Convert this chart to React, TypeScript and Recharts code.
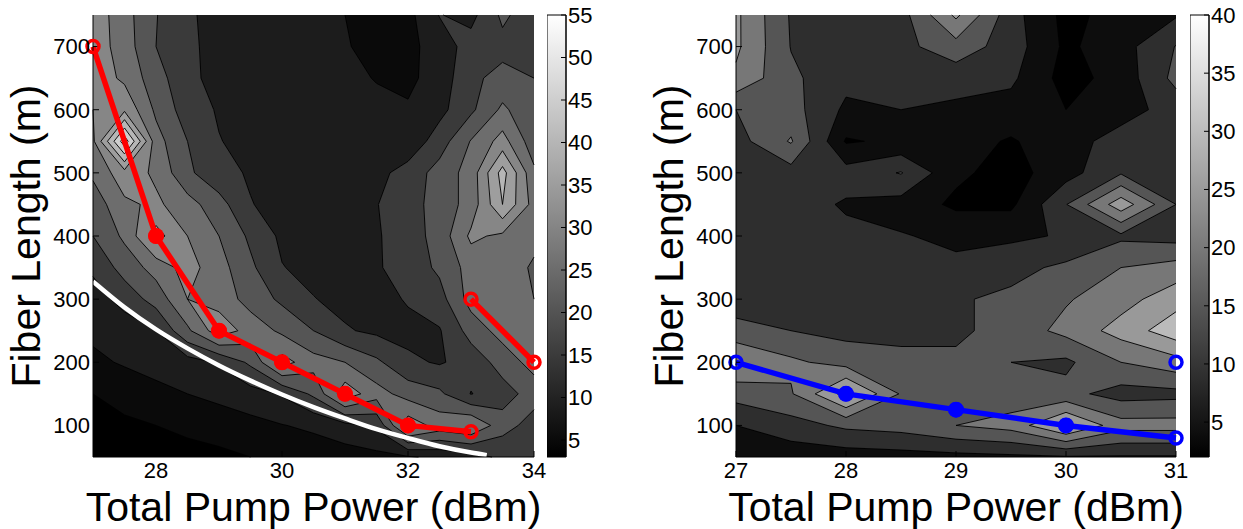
import React from 'react';
import { ComposedChart, XAxis, YAxis, Line, Scatter, ReferenceArea } from 'recharts';

const FONT = '"Liberation Sans", Arial, Helvetica, sans-serif';

// ---------- shared ----------
const lengthGrid = [750, 700, 650, 600, 550, 500, 450, 400, 350, 300, 250, 200, 150, 100, 50];
const lengthTicks = [100, 200, 300, 400, 500, 600, 700];
const lengthRange = [50, 750];

// ---------- left panel ----------
const leftPowerGrid = [27, 27.5, 28, 28.5, 29, 29.5, 30, 30.5, 31, 31.5, 32, 32.5, 33, 33.5, 34];
const leftZ = [
  [33, 27, 20.2, 16.3, 12, 11, 11, 11, 10, 8, 8.5, 15.2, 13.5, 21, 17],
  [33, 27.5, 20, 16.5, 12.5, 11.5, 11, 11, 10.5, 8, 8.5, 12.5, 17, 18.5, 18],
  [33, 29, 22, 16.5, 13, 12, 11.5, 11, 11, 9.8, 9, 12, 19, 21.5, 20],
  [30, 34, 24, 17.5, 14.5, 13, 12, 11.5, 11, 11, 10.5, 13.5, 19, 26, 21],
  [29, 53, 27, 20, 15.2, 13.5, 12.5, 12, 11.5, 11.5, 11.5, 17.5, 25.3, 32, 22],
  [26, 33, 29, 21, 16.5, 14.5, 13, 12.5, 12, 13.5, 17, 22, 27, 42, 26],
  [22, 29, 31, 27, 22, 15.2, 13.5, 13, 13, 14.8, 18, 22, 27, 40, 28],
  [20, 26, 37, 30, 25, 19, 14, 13.5, 12.5, 14.5, 17.5, 22, 31, 29, 27],
  [16, 22, 27, 32, 27, 21, 15.2, 13.5, 12.5, 14.5, 17, 21, 27, 29, 24],
  [12.5, 17, 22, 30, 28, 23, 19, 15.2, 13.5, 13, 15.5, 18, 27, 28, 25],
  [11, 12, 15, 24, 33, 28, 24, 20, 15.5, 14, 13.5, 14.6, 22, 27, 28],
  [9, 10.5, 12, 13, 15.5, 21, 32, 27, 25, 21, 16, 14.5, 17, 22, 27],
  [5, 7, 8.5, 10, 11.5, 13, 15.5, 21, 33, 27, 23, 21, 14.8, 18, 22],
  [3, 4, 5, 6, 7, 8.5, 9.8, 11, 13.5, 16, 33, 28, 30, 22, 18],
  [2, 2.5, 3, 3.5, 4, 5, 6, 7, 7.5, 8.5, 9.5, 11, 13, 16, 17],
];
const leftLevels = [5, 10, 15, 20, 25, 30, 35, 40, 45, 50];
const leftBandColors = ['#000000', '#0a0a0a', '#1c1c1c', '#3a3a3a', '#555555', '#6d6d6d', '#868686', '#9e9e9e', '#b6b6b6', '#cecece', '#e6e6e6'];
const leftColorMin = 3;
const leftColorMax = 55;
const leftPowerTicks = [28, 30, 32, 34];
const leftBarTicks = [5, 10, 15, 20, 25, 30, 35, 40, 45, 50, 55];

const leftOptPower = [27, 28, 29, 30, 31, 32, 33];
const leftOptLength = [700, 400, 250, 200, 150, 100, 90];
const leftOpt2Power = [33, 34];
const leftOpt2Length = [300, 200];
const leftFilledPower = [28, 29, 30, 31, 32];
const leftFilledLength = [400, 250, 200, 150, 100];
const leftBoundPower = [27, 27.5, 28, 28.5, 29, 29.5, 30, 30.5, 31, 31.5, 32, 32.5, 33, 33.25];
const leftBoundLength = [328, 287, 252, 222, 195, 171, 149, 129, 111, 94, 80, 67, 57, 53];

// ---------- right panel ----------
const rightPowerGrid = [27, 27.5, 28, 28.5, 29, 29.5, 30, 30.5, 31];
const rightZ = [
  [26, 14.5, 12.5, 13, 26, 12, 3.5, 7, 9.5],
  [26, 14.8, 13, 13.5, 18, 12.5, 4, 8, 15.2],
  [24, 16, 11.5, 11, 12, 11, 3, 7, 16.5],
  [15, 17, 9, 10, 9, 8, 5, 8, 12],
  [13, 20.5, 4.5, 6, 7, 4.5, 8, 12, 12],
  [12.5, 13, 12, 15.3, 6, 3, 8, 14.5, 12],
  [12, 12, 9.5, 8, 4, 4, 14.8, 28, 15],
  [12, 12, 11, 10.3, 9, 9, 10.5, 14, 13],
  [12, 12.5, 12, 11.5, 11, 13.5, 16, 20, 22],
  [12, 12.5, 12.5, 13, 14.5, 16, 19.5, 23, 28],
  [17, 15, 13.5, 13, 14, 17, 21.5, 27, 33],
  [25, 21, 18, 17, 16, 15, 14, 20, 23],
  [17, 19.5, 32, 19.5, 18, 17, 16.5, 13, 13.5],
  [10, 13, 16, 17, 20, 22, 31, 22, 22],
  [6, 7, 7.5, 8, 8.5, 9, 9.5, 9.5, 9.5],
];
const rightLevels = [5, 10, 15, 20, 25, 30, 35];
const rightBandColors = ['#000000', '#0d0d0d', '#2e2e2e', '#555555', '#777777', '#999999', '#bbbbbb', '#dddddd'];
const rightColorMin = 2;
const rightColorMax = 40;
const rightPowerTicks = [27, 28, 29, 30, 31];
const rightBarTicks = [5, 10, 15, 20, 25, 30, 35, 40];

const rightOptPower = [27, 28, 29, 30, 31];
const rightOptLength = [200, 150, 125, 100, 80];
const rightFilledPower = [28, 29, 30];
const rightFilledLength = [150, 125, 100];
const rightExtraPower = [31];
const rightExtraLength = [200];

// ---------- helpers ----------
const toXY = (xs: number[], ys: number[]) => xs.map((x, i) => ({ x, y: ys[i] }));

type Pt = [number, number];

function cellCorners(p: any): Pt[] {
  const { x, y, width: w, height: h } = p;
  return [
    [x, y + h],
    [x + w, y + h],
    [x + w, y],
    [x, y],
  ];
}

// band polygons of one cell, painted lowest band first
function fillCell(p: any, vals: number[], levels: number[], colors: string[]) {
  const pts = cellCorners(p);
  const out: any[] = [<rect key="base" x={p.x} y={p.y} width={p.width} height={p.height} fill={colors[0]} />];
  levels.forEach((L, k) => {
    const poly: Pt[] = [];
    for (let i = 0; i < 4; i++) {
      const j = (i + 1) % 4;
      const a = vals[i] >= L;
      const b = vals[j] >= L;
      if (a) poly.push(pts[i]);
      if (a !== b) {
        const t = (L - vals[i]) / (vals[j] - vals[i]);
        poly.push([pts[i][0] + t * (pts[j][0] - pts[i][0]), pts[i][1] + t * (pts[j][1] - pts[i][1])]);
      }
    }
    if (poly.length >= 3) {
      out.push(<polygon key={k} points={poly.map((q) => `${q[0]},${q[1]}`).join(' ')} fill={colors[k + 1]} />);
    }
  });
  return <g shapeRendering="crispEdges">{out}</g>;
}

function lineCell(p: any, vals: number[], levels: number[]) {
  const pts = cellCorners(p);
  let d = '';
  levels.forEach((L) => {
    const cr: { q: Pt; exit: boolean }[] = [];
    for (let i = 0; i < 4; i++) {
      const j = (i + 1) % 4;
      const a = vals[i] >= L;
      const b = vals[j] >= L;
      if (a !== b) {
        const t = (L - vals[i]) / (vals[j] - vals[i]);
        cr.push({ q: [pts[i][0] + t * (pts[j][0] - pts[i][0]), pts[i][1] + t * (pts[j][1] - pts[i][1])], exit: a });
      }
    }
    const n = cr.length;
    for (let k = 0; k < n; k++) {
      if (cr[k].exit) {
        const e = cr[(k + 1) % n];
        d += `M${cr[k].q[0]},${cr[k].q[1]}L${e.q[0]},${e.q[1]}`;
      }
    }
  });
  if (!d) return <g />;
  return <path d={d} stroke="#000" strokeWidth={0.9} fill="none" />;
}

function contourAreas(xs: number[], ys: number[], z: number[][], levels: number[], colors: string[], prefix: string) {
  const fills: any[] = [];
  const lines: any[] = [];
  for (let j = 0; j < ys.length - 1; j++) {
    for (let i = 0; i < xs.length - 1; i++) {
      const vals = [z[j + 1][i], z[j + 1][i + 1], z[j][i + 1], z[j][i]];
      fills.push(
        <ReferenceArea
          key={`${prefix}f${j}_${i}`}
          x1={xs[i]}
          x2={xs[i + 1]}
          y1={ys[j + 1]}
          y2={ys[j]}
          ifOverflow="visible"
          stroke="none"
          fill="none"
          shape={(p: any) => fillCell(p, vals, levels, colors)}
        />
      );
      lines.push(
        <ReferenceArea
          key={`${prefix}l${j}_${i}`}
          x1={xs[i]}
          x2={xs[i + 1]}
          y1={ys[j + 1]}
          y2={ys[j]}
          ifOverflow="visible"
          stroke="none"
          fill="none"
          shape={(p: any) => lineCell(p, vals, levels)}
        />
      );
    }
  }
  return [...fills, ...lines];
}

const tickText = { fontSize: 22, fill: '#000', fontFamily: FONT };

const ring = (color: string) => (p: any) => (
  <circle cx={p.cx} cy={p.cy} r={6} fill="none" stroke={color} strokeWidth={3.5} />
);
const disc = (color: string) => (p: any) => <circle cx={p.cx} cy={p.cy} r={8} fill={color} />;

function Panel(props: {
  xs: number[];
  z: number[][];
  levels: number[];
  colors: string[];
  xTicks: number[];
  prefix: string;
  rightMargin: number;
  children?: any;
}) {
  const { xs, z, levels, colors, xTicks, prefix, rightMargin, children } = props;
  const domain: [number, number] = [xs[0], xs[xs.length - 1]];
  const frame = toXY([xs[0], xs[xs.length - 1]], lengthRange);
  return (
    <ComposedChart width={560} height={529} margin={{ top: 15, right: rightMargin, bottom: 0, left: 0 }}>
      <XAxis
        dataKey="x"
        type="number"
        domain={domain}
        ticks={xTicks}
        interval={0}
        height={72}
        stroke="#000"
        tickSize={-6}
        tickMargin={11}
        tick={tickText}
        label={{
          value: 'Total Pump Power (dBm)',
          position: 'insideBottom',
          offset: 8.5,
          fontSize: 41,
          fontFamily: FONT,
          fill: '#000',
        }}
      />
      <XAxis xAxisId="top" dataKey="x" orientation="top" type="number" domain={domain} ticks={xTicks} interval={0} height={0} stroke="#000" tickSize={-6} tick={false} />
      <YAxis
        dataKey="y"
        type="number"
        domain={[50, 750]}
        ticks={lengthTicks}
        interval={0}
        width={93}
        stroke="#000"
        tickSize={-6}
        tickMargin={9}
        tick={tickText}
        label={{
          value: 'Fiber Length (m)',
          angle: -90,
          position: 'insideLeft',
          offset: 25,
          fontSize: 41,
          fontFamily: FONT,
          fill: '#000',
          style: { textAnchor: 'middle' },
        }}
      />
      <YAxis yAxisId="right" dataKey="y" orientation="right" type="number" domain={[50, 750]} ticks={lengthTicks} interval={0} width={0} stroke="#000" tickSize={-6} tick={false} />
      {contourAreas(xs, lengthGrid, z, levels, colors, prefix)}
      <Line xAxisId="top" yAxisId="right" data={frame} dataKey="y" stroke="none" dot={false} activeDot={false} isAnimationActive={false} />
      {children}
    </ComposedChart>
  );
}

function ColorBar(props: { cmin: number; cmax: number; ticks: number[]; width: number; id: string }) {
  const { cmin, cmax, ticks, width, id } = props;
  const span = toXY([0, 1], [cmin, cmax]);
  return (
    <ComposedChart width={width} height={529} margin={{ top: 15, right: 0, bottom: 72, left: 0 }}>
      <defs>
        <linearGradient id={id} x1="0" y1="0" x2="0" y2="1">
          <stop offset="0%" stopColor="#ffffff" />
          <stop offset="100%" stopColor="#000000" />
        </linearGradient>
      </defs>
      <XAxis type="number" dataKey="x" domain={[0, 1]} hide />
      <YAxis yAxisId="l" dataKey="y" orientation="left" type="number" domain={[cmin, cmax]} ticks={ticks} interval={0} width={0} stroke="#000" tickSize={-5} tick={false} />
      <YAxis
        dataKey="y"
        orientation="right"
        type="number"
        domain={[cmin, cmax]}
        ticks={ticks}
        interval={0}
        width={width - 19}
        stroke="#000"
        tickSize={-5}
        tickMargin={7}
        tick={tickText}
      />
      <ReferenceArea x1={0} x2={1} y1={cmin} y2={cmax} fill={`url(#${id})`} fillOpacity={1} stroke="#000" strokeWidth={1} ifOverflow="visible" />
      <Line data={span} dataKey="y" stroke="none" dot={false} activeDot={false} isAnimationActive={false} />
      <Line yAxisId="l" data={span} dataKey="y" stroke="none" dot={false} activeDot={false} isAnimationActive={false} />
    </ComposedChart>
  );
}

export default function App() {
  return (
    <div style={{ position: 'absolute', left: 0, top: 0, width: 1243, height: 529, overflow: 'hidden', background: '#fff' }}>
      <div style={{ position: 'absolute', left: 0, top: 0 }}>
        <Panel xs={leftPowerGrid} z={leftZ} levels={leftLevels} colors={leftBandColors} xTicks={leftPowerTicks} prefix="L" rightMargin={26}>
          <Line data={toXY(leftBoundPower, leftBoundLength)} dataKey="y" type="monotone" stroke="#ffffff" strokeWidth={4.5} dot={false} activeDot={false} isAnimationActive={false} />
          <Line data={toXY(leftOptPower, leftOptLength)} dataKey="y" stroke="#ff0000" strokeWidth={5.5} dot={{ r: 6, stroke: '#ff0000', strokeWidth: 3.5, fill: 'none' }} activeDot={false} isAnimationActive={false} />
          <Line data={toXY(leftOpt2Power, leftOpt2Length)} dataKey="y" stroke="#ff0000" strokeWidth={5.5} dot={{ r: 6, stroke: '#ff0000', strokeWidth: 3.5, fill: 'none' }} activeDot={false} isAnimationActive={false} />
          <Scatter data={toXY(leftFilledPower, leftFilledLength)} dataKey="y" fill="#ff0000" shape={disc('#ff0000')} isAnimationActive={false} />
        </Panel>
      </div>
      <div style={{ position: 'absolute', left: 547, top: 0 }}>
        <ColorBar cmin={leftColorMin} cmax={leftColorMax} ticks={leftBarTicks} width={80} id="gradLeft" />
      </div>
      <div style={{ position: 'absolute', left: 643, top: 0 }}>
        <Panel xs={rightPowerGrid} z={rightZ} levels={rightLevels} colors={rightBandColors} xTicks={rightPowerTicks} prefix="R" rightMargin={27}>
          <Line data={toXY(rightOptPower, rightOptLength)} dataKey="y" stroke="#0000ff" strokeWidth={5.5} dot={{ r: 6, stroke: '#0000ff', strokeWidth: 3.5, fill: 'none' }} activeDot={false} isAnimationActive={false} />
          <Scatter data={toXY(rightFilledPower, rightFilledLength)} dataKey="y" fill="#0000ff" shape={disc('#0000ff')} isAnimationActive={false} />
          <Scatter data={toXY(rightExtraPower, rightExtraLength)} dataKey="y" fill="#0000ff" shape={ring('#0000ff')} isAnimationActive={false} />
        </Panel>
      </div>
      <div style={{ position: 'absolute', left: 1190, top: 0 }}>
        <ColorBar cmin={rightColorMin} cmax={rightColorMax} ticks={rightBarTicks} width={53} id="gradRight" />
      </div>
    </div>
  );
}
